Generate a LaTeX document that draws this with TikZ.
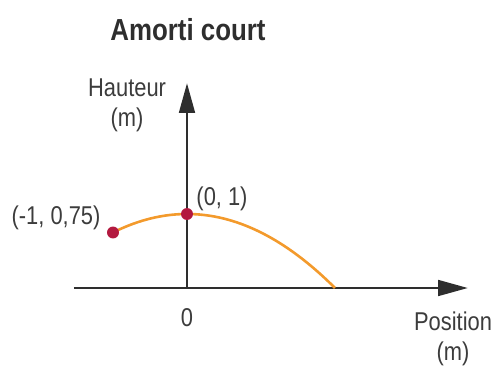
\documentclass[tikz,border=0pt]{standalone}
\usepackage{fontspec}
\setmainfont{Liberation Sans}[FakeStretch=0.85]
\usetikzlibrary{arrows.meta,positioning}
\definecolor{axisgray}{HTML}{2E2E2E}
\definecolor{txtgray}{HTML}{3C3C3C}
\definecolor{curveorange}{HTML}{F39A2C}
\definecolor{dotred}{HTML}{B3193F}

\begin{document}
\begin{tikzpicture}[font=\fontsize{9.9}{11.5}\selectfont,text=txtgray,
  axis/.style={axisgray,line width=1.15pt,-{Triangle[length=11.5pt,width=6pt]}},
  dot/.style={circle,fill=dotred,inner sep=0pt,minimum size=4.6pt},
  lbl/.style={align=center,inner sep=1pt}]
  \useasboundingbox (-2.527,-1.095) rectangle (4.162,3.892);
  % title
  \node[font=\fontsize{11.7}{13}\selectfont\bfseries,text=axisgray] (title) at (0.014,3.486) {Amorti court};
  % ---- axes
  \coordinate (O) at (0,0);
  \coordinate (xs) at (-1.527,0);
  \coordinate (xe) at (3.797,0);
  \coordinate (ye) at (0,2.77);
  \draw[axis] (xs) -- (xe);
  \draw[axis] (O) -- (ye);
  \node[lbl] (ylab) at (-0.81,2.473) {Hauteur\\(m)};
  \node[lbl] (xlab) at (3.595,-0.689) {Position\\(m)};
  \node[lbl] (zero) at (0,-0.405) {0};
  % ---- trajectory
  \draw[curveorange,line width=1pt,domain=-1:2,samples=60,smooth] plot (\x,{1-0.25*\x*\x});
  \node[dot] (top) at (0,1) {};
  \node[dot] (start) at (-1,0.75) {};
  \node[lbl] (toplab) at (0.473,1.203) {(0, 1)};
  \node[lbl] (startlab) at (-1.77,0.946) {(-1, 0,75)};
\end{tikzpicture}
\end{document}
